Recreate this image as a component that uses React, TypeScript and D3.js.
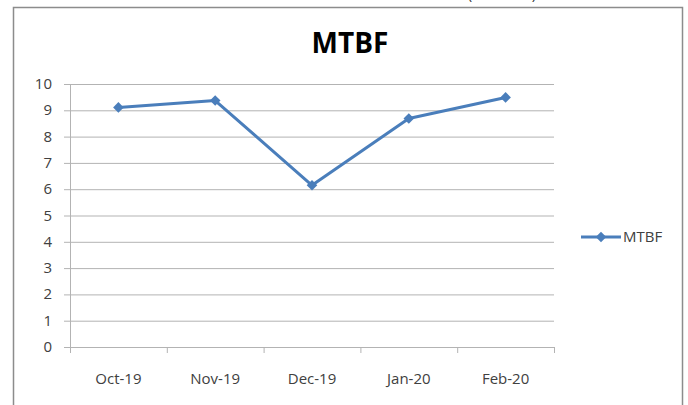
import { line, scaleLinear, scalePoint, scaleBand, symbol, symbolSquare } from 'd3';

const months = ['Oct-19', 'Nov-19', 'Dec-19', 'Jan-20', 'Feb-20'];
const mtbf = [9.11, 9.37, 6.15, 8.69, 9.49];
const yTicks = [0, 1, 2, 3, 4, 5, 6, 7, 8, 9, 10];

const width = 688;
const height = 405;
const plot = { left: 70, right: 554, top: 84, bottom: 347 };
const lineColor = '#4a7ebb';
const font = "'Open Sans', sans-serif";

export default function App() {
  const xBand = scaleBand<string>().domain(months).range([plot.left, plot.right]);
  const xPoint = scalePoint<string>().domain(months).range([plot.left, plot.right]).padding(0.5);
  const yScale = scaleLinear().domain([0, 10]).range([plot.bottom, plot.top]);

  const points = months.map((m, i) => ({ m, v: mtbf[i] }));
  const path = line<{ m: string; v: number }>()
    .x(d => xPoint(d.m) ?? 0)
    .y(d => yScale(d.v))(points);
  // excel-style marker: a square turned 45 degrees
  const diamond = symbol().type(symbolSquare).size(56)() ?? '';

  const bandEdges = [...months.map(m => xBand(m) ?? 0), plot.right];

  return (
    <svg
      width={width}
      height={height}
      style={{ position: 'absolute', left: 0, top: 0, background: '#fff' }}
    >
      {/* cropped caption above the chart */}
      <text x={502} y={-1} textAnchor="middle" fontFamily={font} fontSize={15} fill="#333">(in Hours)</text>

      <rect x={13.5} y={7.5} width={669} height={410} fill="#fff" stroke="#8c8c8c" strokeWidth={1.5} />

      <text x={350} y={53} textAnchor="middle" fontFamily={font} fontWeight="bold" fontSize={28} fill="#000">
        MTBF
      </text>

      {yTicks.map(t => (
        <g key={t}>
          <line x1={plot.left - 6} x2={plot.right} y1={yScale(t) + 0.5} y2={yScale(t) + 0.5} stroke="#b3b3b3" strokeWidth={1} />
          <text x={52} y={yScale(t) + 5} textAnchor="end" fontFamily={font} fontSize={15} fill="#404040">
            {t}
          </text>
        </g>
      ))}

      <line x1={plot.left + 0.5} x2={plot.left + 0.5} y1={plot.top} y2={plot.bottom + 6} stroke="#b3b3b3" />
      {bandEdges.map((x, i) => (
        <line key={i} x1={x + 0.5} x2={x + 0.5} y1={plot.bottom} y2={plot.bottom + 6} stroke="#b3b3b3" />
      ))}
      {months.map(m => (
        <text key={m} x={xPoint(m)} y={plot.bottom + 37} textAnchor="middle" fontFamily={font} fontSize={15} fill="#404040">
          {m}
        </text>
      ))}

      <path d={path ?? ''} fill="none" stroke={lineColor} strokeWidth={3} strokeLinejoin="round" />
      {points.map(p => (
        <path key={p.m} d={diamond} transform={`translate(${xPoint(p.m)},${yScale(p.v)}) rotate(45)`} fill={lineColor} />
      ))}

      <g transform="translate(581,237)">
        <line x1={0} x2={40} y1={0} y2={0} stroke={lineColor} strokeWidth={3} />
        <path d={diamond} transform="translate(20,0) rotate(45)" fill={lineColor} />
        <text x={42} y={5} fontFamily={font} fontSize={15} fill="#404040">MTBF</text>
      </g>
    </svg>
  );
}
